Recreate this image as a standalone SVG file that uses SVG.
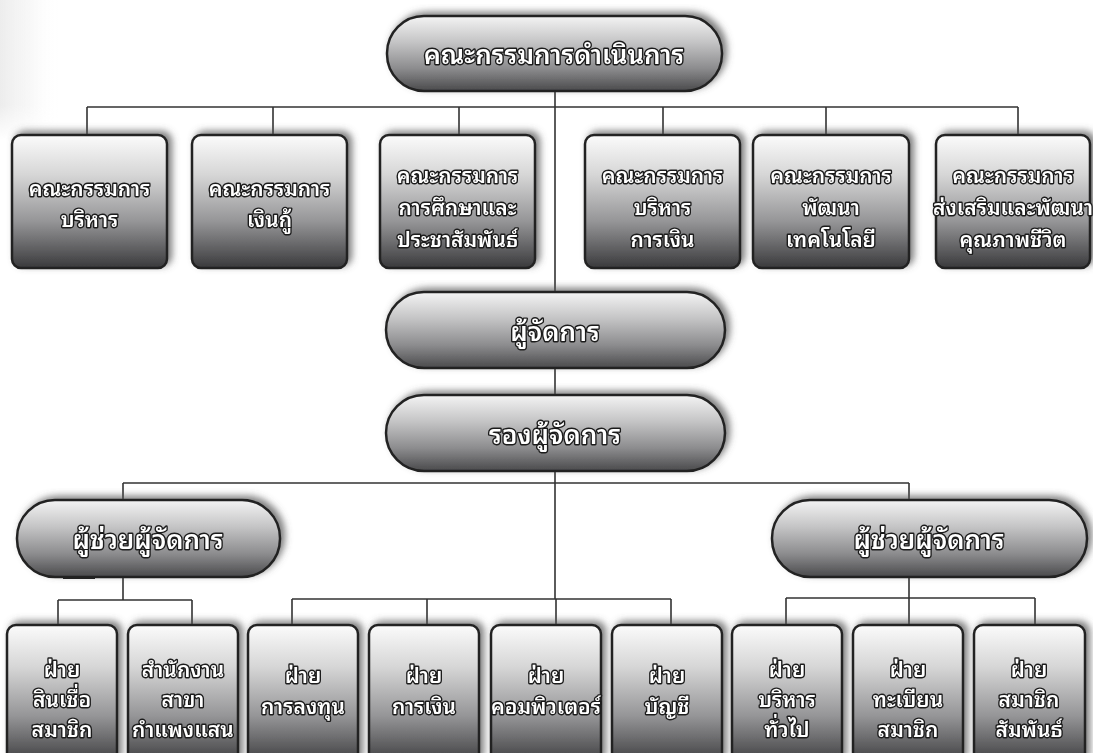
<svg xmlns="http://www.w3.org/2000/svg" width="1093" height="753" viewBox="0 0 1093 753">
<defs>
<linearGradient id="gBox" x1="0" y1="0" x2="0" y2="1">
<stop offset="0" stop-color="#fbfbfb"/>
<stop offset="0.3" stop-color="#d6d6d6"/>
<stop offset="0.65" stop-color="#959597"/>
<stop offset="1" stop-color="#3a3a3c"/>
</linearGradient>
<linearGradient id="gPill" x1="0" y1="0" x2="0" y2="1">
<stop offset="0" stop-color="#f4f4f4"/>
<stop offset="0.35" stop-color="#c4c4c5"/>
<stop offset="0.7" stop-color="#8c8c8e"/>
<stop offset="1" stop-color="#4a4a4c"/>
</linearGradient>
<linearGradient id="gEdge" x1="0" y1="0" x2="1" y2="0">
<stop offset="0" stop-color="#e8e8e8" stop-opacity="0.8"/>
<stop offset="0.5" stop-color="#f0f0f0" stop-opacity="0.5"/>
<stop offset="1" stop-color="#ffffff" stop-opacity="0"/>
</linearGradient>
<linearGradient id="gFade" x1="0" y1="0" x2="0" y2="1">
<stop offset="0" stop-color="#fff"/>
<stop offset="0.75" stop-color="#fff"/>
<stop offset="1" stop-color="#000"/>
</linearGradient>
<mask id="mEdge"><rect x="0" y="0" width="60" height="140" fill="url(#gFade)"/></mask>
<filter id="sh" x="-10%" y="-15%" width="125%" height="130%">
<feGaussianBlur in="SourceAlpha" stdDeviation="3.5"/>
<feOffset dx="4" dy="-3" result="b"/>
<feFlood flood-color="#555" flood-opacity="0.75"/>
<feComposite in2="b" operator="in"/>
<feMerge><feMergeNode/><feMergeNode in="SourceGraphic"/></feMerge>
</filter>
</defs>
<style>
.box{fill:url(#gBox);stroke:#222;stroke-width:2.5}
.pill{fill:url(#gPill);stroke:#222;stroke-width:2.5}
.lines{fill:none;stroke:#333;stroke-width:1.6}
text{font-family:'Noto Sans Thai Looped','Garuda','Loma','Tlwg Typo','Noto Sans Thai','Noto Sans','DejaVu Sans',sans-serif;fill:#fff;stroke:#1a1a1a;stroke-width:2.8;paint-order:stroke;stroke-linejoin:round;text-anchor:middle;font-weight:600}
.t1{font-size:26px}
.t2{font-size:21px}
.t3{font-size:21px}
</style>
<rect width="1093" height="753" fill="#fff"/>
<rect x="0" y="0" width="60" height="140" fill="url(#gEdge)" mask="url(#mEdge)"/>

<g id="connectors" class="lines">
<path d="M555 91 V599"/>
<path d="M87 107 H1018 M87 107 V135 M273 107 V135 M459 107 V135 M663 107 V135 M826 107 V135 M1018 107 V135"/>
<path d="M123 483 H909 M123 483 V500 M909 483 V500"/>
<path d="M123 577 V600 M58 600 H192 M58 600 V625 M192 600 V625"/>
<path d="M292 599 H671 M292 599 V625 M427 599 V625 M556 599 V625 M671 599 V625"/>
<path d="M909 577 V598 M786 598 H1035 M786 598 V625 M909 598 V625 M1035 598 V625"/>
</g>

<g id="n-board" filter="url(#sh)"><rect class="pill" x="387" y="16" width="335" height="75" rx="37"/><text class="t1" x="554" y="64">คณะกรรมการดำเนินการ</text></g>

<g id="n-c1" filter="url(#sh)"><rect class="box" x="12" y="135" width="155" height="133" rx="9"/><text class="t2" x="89.5" y="196">คณะกรรมการ</text><text class="t2" x="89.5" y="227">บริหาร</text></g>
<g id="n-c2" filter="url(#sh)"><rect class="box" x="192" y="135" width="155" height="133" rx="9"/><text class="t2" x="269.5" y="196">คณะกรรมการ</text><text class="t2" x="269.5" y="227">เงินกู้</text></g>
<g id="n-c3" filter="url(#sh)"><rect class="box" x="380" y="135" width="155" height="133" rx="9"/><text class="t2" x="457.5" y="183">คณะกรรมการ</text><text class="t2" x="457.5" y="215">การศึกษาและ</text><text class="t2" x="457.5" y="247">ประชาสัมพันธ์</text></g>
<g id="n-c4" filter="url(#sh)"><rect class="box" x="585" y="135" width="155" height="133" rx="9"/><text class="t2" x="662.5" y="183">คณะกรรมการ</text><text class="t2" x="662.5" y="215">บริหาร</text><text class="t2" x="662.5" y="247">การเงิน</text></g>
<g id="n-c5" filter="url(#sh)"><rect class="box" x="753" y="135" width="156" height="133" rx="9"/><text class="t2" x="831" y="183">คณะกรรมการ</text><text class="t2" x="831" y="215">พัฒนา</text><text class="t2" x="831" y="247">เทคโนโลยี</text></g>
<g id="n-c6" filter="url(#sh)"><rect class="box" x="936" y="135" width="154" height="133" rx="9"/><text class="t2" x="1013" y="183">คณะกรรมการ</text><text class="t2" x="1013" y="215">ส่งเสริมและพัฒนา</text><text class="t2" x="1013" y="247">คุณภาพชีวิต</text></g>

<g id="n-mgr" filter="url(#sh)"><rect class="pill" x="386" y="292" width="339" height="76" rx="38"/><text class="t1" x="555" y="341">ผู้จัดการ</text></g>
<g id="n-dmgr" filter="url(#sh)"><rect class="pill" x="386" y="395" width="339" height="76" rx="38"/><text class="t1" x="555" y="444">รองผู้จัดการ</text></g>

<g id="n-asst1" filter="url(#sh)"><rect class="pill" x="17" y="500" width="263" height="77" rx="38"/><text class="t1" x="148" y="549">ผู้ช่วยผู้จัดการ</text></g>
<rect x="63" y="576" width="32" height="3" fill="#222"/>
<g id="n-asst2" filter="url(#sh)"><rect class="pill" x="772" y="500" width="315" height="77" rx="38"/><text class="t1" x="929" y="549">ผู้ช่วยผู้จัดการ</text></g>

<g id="n-d1" filter="url(#sh)"><rect class="box" x="7" y="625" width="110" height="140" rx="9"/><text class="t3" x="62" y="677">ฝ่าย</text><text class="t3" x="62" y="707">สินเชื่อ</text><text class="t3" x="62" y="737">สมาชิก</text></g>
<g id="n-d2" filter="url(#sh)"><rect class="box" x="128" y="625" width="110" height="140" rx="9"/><text class="t3" x="183" y="677">สำนักงาน</text><text class="t3" x="183" y="707">สาขา</text><text class="t3" x="183" y="737">กำแพงแสน</text></g>
<g id="n-d3" filter="url(#sh)"><rect class="box" x="248" y="625" width="110" height="140" rx="9"/><text class="t3" x="303" y="683">ฝ่าย</text><text class="t3" x="303" y="714">การลงทุน</text></g>
<g id="n-d4" filter="url(#sh)"><rect class="box" x="369" y="625" width="110" height="140" rx="9"/><text class="t3" x="424" y="683">ฝ่าย</text><text class="t3" x="424" y="714">การเงิน</text></g>
<g id="n-d5" filter="url(#sh)"><rect class="box" x="491" y="625" width="110" height="140" rx="9"/><text class="t3" x="546" y="683">ฝ่าย</text><text class="t3" x="546" y="714">คอมพิวเตอร์</text></g>
<g id="n-d6" filter="url(#sh)"><rect class="box" x="612" y="625" width="110" height="140" rx="9"/><text class="t3" x="667" y="683">ฝ่าย</text><text class="t3" x="667" y="714">บัญชี</text></g>
<g id="n-d7" filter="url(#sh)"><rect class="box" x="732" y="625" width="110" height="140" rx="9"/><text class="t3" x="787" y="677">ฝ่าย</text><text class="t3" x="787" y="707">บริหาร</text><text class="t3" x="787" y="737">ทั่วไป</text></g>
<g id="n-d8" filter="url(#sh)"><rect class="box" x="853" y="625" width="110" height="140" rx="9"/><text class="t3" x="908" y="677">ฝ่าย</text><text class="t3" x="908" y="707">ทะเบียน</text><text class="t3" x="908" y="737">สมาชิก</text></g>
<g id="n-d9" filter="url(#sh)"><rect class="box" x="974" y="625" width="111" height="140" rx="9"/><text class="t3" x="1029" y="677">ฝ่าย</text><text class="t3" x="1029" y="707">สมาชิก</text><text class="t3" x="1029" y="737">สัมพันธ์</text></g>
</svg>
